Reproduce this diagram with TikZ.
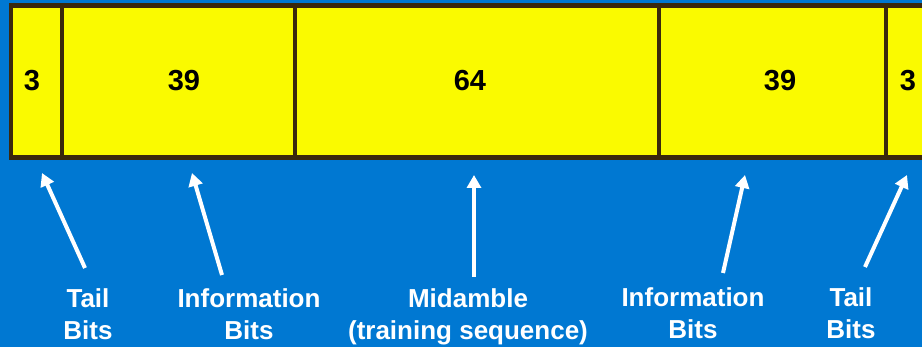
\documentclass[tikz,border=0pt]{standalone}
\usepackage{fontspec}
\setmainfont{Liberation Sans}
\usetikzlibrary{arrows.meta}
\definecolor{slotblue}{RGB}{0,120,210}
\definecolor{slotyellow}{RGB}{250,250,0}
\definecolor{slotedge}{RGB}{58,40,12}
\tikzset{
>={Triangle[length=13pt,width=14pt]},
  field/.style={
    rectangle,
    draw=slotedge, line width=4.5pt,
    fill=slotyellow,
    inner sep=0pt,
    minimum height=152pt},
  count/.style={text=black, font=\fontsize{29}{29}\selectfont\bfseries},
  caption/.style={
    align=center,
    text=white,
    font=\fontsize{26}{32}\selectfont\bfseries},
  pointer/.style={draw=white, line width=4pt, ->},
}

\begin{document}
\begin{tikzpicture}[x=1pt, y=-1pt]
  \clip (0,0) rectangle (922,347);
  \fill[slotblue] (0,0) rectangle (922,347);
  % burst fields
     \node[field, minimum width=51pt]  (lefttail)  at (36.5,81.4)  {};
     \node[field, minimum width=233pt] (leftinfo)  at (178.5,81.4) {};
     \node[field, minimum width=364pt] (midamble)  at (477,81.4)   {};
     \node[field, minimum width=227pt] (rightinfo) at (772.5,81.4) {};
     \node[field, minimum width=51pt]  (righttail) at (911.5,81.4) {};
  % bit counts
     \node[count] (n-lefttail)  at (32,81)  {3};
     \node[count] (n-leftinfo)  at (184,81) {39};
     \node[count] (n-midamble)  at (470,81) {64};
     \node[count] (n-rightinfo) at (780,81) {39};
     \node[count] (n-righttail) at (908,81) {3};
  % captions
     \node[caption] (c-lefttail)  at (88,314)  {Tail\\Bits};
     \node[caption] (c-leftinfo)  at (249,314) {Information\\Bits};
     \node[caption] (c-midamble)  at (468,317) {Midamble\\(training sequence)};
     \node[caption] (c-rightinfo) at (693,313) {Information\\Bits};
     \node[caption] (c-righttail) at (851,313) {Tail\\Bits};
  % arrow ends
     \coordinate (from-lefttail)  at (85,268);
     \coordinate (to-lefttail)    at (42,173);
     \coordinate (from-leftinfo)  at (222,275);
     \coordinate (to-leftinfo)    at (192,173);
     \coordinate (from-midamble)  at (474,277);
     \coordinate (to-midamble)    at (474,175);
     \coordinate (from-rightinfo) at (723,273);
     \coordinate (to-rightinfo)   at (745,175);
     \coordinate (from-righttail) at (865,267);
     \coordinate (to-righttail)   at (907,175);
     \draw[pointer] (from-lefttail)  -- (to-lefttail);
     \draw[pointer] (from-leftinfo)  -- (to-leftinfo);
     \draw[pointer] (from-midamble)  -- (to-midamble);
     \draw[pointer] (from-rightinfo) -- (to-rightinfo);
     \draw[pointer] (from-righttail) -- (to-righttail);
\end{tikzpicture}
\end{document}
